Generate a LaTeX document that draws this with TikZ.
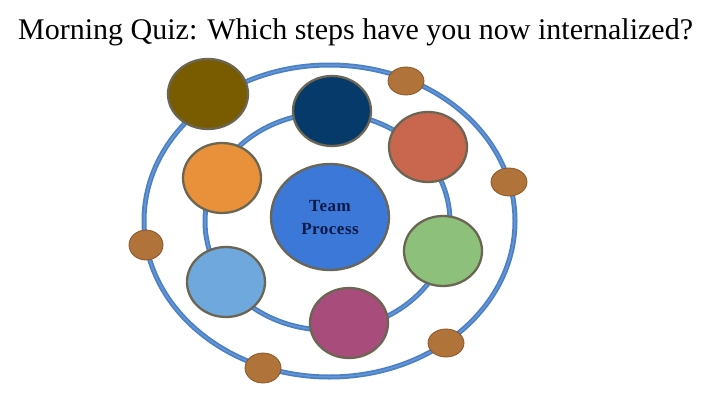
\documentclass[tikz,border=0pt]{standalone}
\usepackage{fontspec}
\setmainfont{Liberation Serif}
\newfontfamily\tpfont[LetterSpace=3]{Liberation Serif}
\definecolor{ringblue}{HTML}{4A80C6}
\definecolor{ringlight}{HTML}{6696D4}
\definecolor{cbrown}{HTML}{7A5C00}
\definecolor{cnavy}{HTML}{063A6A}
\definecolor{csalmon}{HTML}{C8674E}
\definecolor{corange}{HTML}{E8913A}
\definecolor{cgreen}{HTML}{8DC07A}
\definecolor{clblue}{HTML}{6FA8DC}
\definecolor{cmag}{HTML}{A84C7C}
\definecolor{ccenter}{HTML}{3C78D8}
\definecolor{cdot}{HTML}{B0733A}
\definecolor{cdotedge}{HTML}{8A5528}
\definecolor{cedge}{HTML}{6B6654}
\definecolor{ctext}{HTML}{0C1A48}
\begin{document}
\begin{tikzpicture}[x=1pt,y=-1pt,
  ring/.style={draw=ringblue,line width=5pt},
  ringhi/.style={draw=ringlight,line width=1.5pt},
  bigc/.style={draw=cedge,line width=2.3pt},
  dot/.style={draw=cdotedge,line width=0.8pt,fill=cdot}]
\useasboundingbox (0,0) rectangle (720,405);
\fill[white] (0,0) rectangle (720,405);
\node[font=\fontsize{30}{34}\selectfont,anchor=base west,inner sep=0pt] (title) at (18,39) {Morning Quiz: Which steps have you now internalized?};
% rings
\draw[ring] (329.5,221) ellipse [x radius=185.5, y radius=156];
\draw[ringhi] (329.5,221) ellipse [x radius=185.5, y radius=156];
\draw[ring] (327.5,221.5) ellipse [x radius=122.5, y radius=108.5];
\draw[ringhi] (327.5,221.5) ellipse [x radius=122.5, y radius=108.5];
% big circles
\draw[bigc,fill=cbrown] (208,94) ellipse [x radius=40, y radius=35];
\draw[bigc,fill=cnavy] (332,111) ellipse [x radius=39, y radius=35];
\draw[bigc,fill=csalmon] (428,147) ellipse [x radius=39, y radius=35];
\draw[bigc,fill=corange] (222,178) ellipse [x radius=39, y radius=35];
\draw[bigc,fill=cgreen] (443,251) ellipse [x radius=39, y radius=35];
\draw[bigc,fill=clblue] (226,282) ellipse [x radius=39, y radius=35];
\draw[bigc,fill=cmag] (349,323) ellipse [x radius=39, y radius=35];
\draw[bigc,fill=ccenter] (330,217) ellipse [x radius=59, y radius=53];
\node[font=\tpfont\bfseries\fontsize{17}{23}\selectfont,text=ctext,align=center] (center) at (330,218) {Team\\Process};
% small dots
\draw[dot] (406,81) ellipse [x radius=18, y radius=14];
\draw[dot] (509,182) ellipse [x radius=18, y radius=14];
\draw[dot] (146,245) ellipse [x radius=17, y radius=15];
\draw[dot] (446,343) ellipse [x radius=18, y radius=14];
\draw[dot] (263,368) ellipse [x radius=18, y radius=15];
\end{tikzpicture}
\end{document}
